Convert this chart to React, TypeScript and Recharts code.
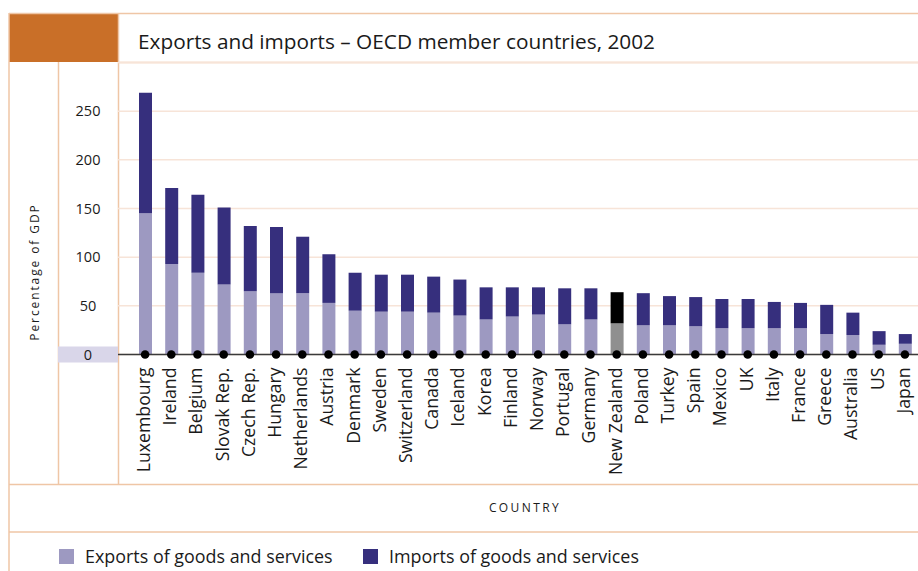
import { BarChart, Bar, Cell, XAxis, YAxis, CartesianGrid } from 'recharts';

const countries = [
  'Luxembourg', 'Ireland', 'Belgium', 'Slovak Rep.', 'Czech Rep.', 'Hungary',
  'Netherlands', 'Austria', 'Denmark', 'Sweden', 'Switzerland', 'Canada',
  'Iceland', 'Korea', 'Finland', 'Norway', 'Portugal', 'Germany',
  'New Zealand', 'Poland', 'Turkey', 'Spain', 'Mexico', 'UK', 'Italy',
  'France', 'Greece', 'Australia', 'US', 'Japan',
];

const exportsPct = [
  145, 93, 84, 72, 65, 63, 63, 53, 45, 44, 44, 43, 40, 36, 39,
  41, 31, 36, 32, 30, 30, 29, 27, 27, 27, 27, 21, 20, 10, 11,
];

const importsPct = [
  124, 78, 80, 79, 67, 68, 58, 50, 39, 38, 38, 37, 37, 33, 30,
  28, 37, 32, 32, 33, 30, 30, 30, 30, 27, 26, 30, 23, 14, 10,
];

const yTicks = [0, 50, 100, 150, 200, 250];
const highlighted = 'New Zealand';

const data = countries.map((country, i) => ({
  country,
  exports: exportsPct[i],
  imports: importsPct[i],
}));

const FONT = '"Open Sans", "Noto Sans", sans-serif';
const FRAME = '#efc6a6';
const GRID = '#f7e4d8';
const EXPORT_COLOR = '#9d99c1';
const IMPORT_COLOR = '#362f7d';

function CountryTick({ x, y, payload }: any) {
  return (
    <g>
      <circle cx={x} cy={y} r={4.3} fill="#000" />
      <text
        transform={`translate(${x},${y + 13}) rotate(-90)`}
        textAnchor="end"
        dy="0.28em"
        fontSize={17.7}
        fontFamily={FONT}
        fill="#1a1a1a"
      >
        {payload.value}
      </text>
    </g>
  );
}

function ValueTick({ x, y, payload }: any) {
  return (
    <g>
      {payload.value === 0 && (
        <rect x={x - 60} y={y - 8} width={60} height={16} fill="#d9d6e9" />
      )}
      <text
        x={x - 30}
        y={y}
        dy="0.35em"
        textAnchor="middle"
        fontSize={14.5}
        fontFamily={FONT}
        fill="#1a1a1a"
      >
        {payload.value}
      </text>
    </g>
  );
}

export default function App() {
  return (
    <div style={{ position: 'absolute', left: 0, top: 0, width: 918, height: 571, background: '#fff' }}>
      {/* frame, title, axis titles and legend */}
      <svg width={918} height={571} style={{ position: 'absolute', left: 0, top: 0 }}>
        <rect x={9} y={13} width={110} height={49} fill="#c96f28" />
        <line x1={9} y1={13.5} x2={918} y2={13.5} stroke={FRAME} strokeWidth={1.5} />
        <line x1={119} y1={62.5} x2={918} y2={62.5} stroke={FRAME} strokeWidth={1.5} />
        <line x1={9} y1={13} x2={9} y2={571} stroke={FRAME} strokeWidth={1.5} />
        <line x1={58.5} y1={62} x2={58.5} y2={484} stroke={FRAME} strokeWidth={1.5} />
        <line x1={118.5} y1={13} x2={118.5} y2={484} stroke={FRAME} strokeWidth={1.5} />
        <line x1={9} y1={484.5} x2={918} y2={484.5} stroke={FRAME} strokeWidth={1.5} />
        <line x1={9} y1={532} x2={918} y2={532} stroke={FRAME} strokeWidth={1.5} />
        <text x={138} y={49} fontSize={20.8} fontFamily={FONT} fill="#1a1a1a">
          Exports and imports – OECD member countries, 2002
        </text>
        <text
          transform="translate(35,272) rotate(-90)"
          textAnchor="middle"
          dy="0.35em"
          fontSize={12}
          letterSpacing={1.9}
          fontFamily={FONT}
          fill="#1a1a1a"
        >
          Percentage of GDP
        </text>
        <text x={525} y={512} textAnchor="middle" fontSize={12} letterSpacing={2.4} fontFamily={FONT} fill="#1a1a1a">
          COUNTRY
        </text>
        <rect x={59} y={549} width={15} height={15} fill={EXPORT_COLOR} />
        <text x={85} y={563} fontSize={17.9} fontFamily={FONT} fill="#1a1a1a">
          Exports of goods and services
        </text>
        <rect x={363} y={549} width={15} height={15} fill={IMPORT_COLOR} />
        <text x={389} y={563} fontSize={17.9} fontFamily={FONT} fill="#1a1a1a">
          Imports of goods and services
        </text>
      </svg>

      <div style={{ position: 'absolute', left: 0, top: 0 }}>
        <BarChart
          width={918}
          height={571}
          data={data}
          margin={{ top: 62.5, right: 0, bottom: 86.5, left: 58 }}
          barSize={13}
        >
          <CartesianGrid horizontal vertical={false} stroke={GRID} strokeWidth={1.5} />
          <YAxis
            domain={[0, 300]}
            ticks={yTicks}
            width={60}
            axisLine={false}
            tickLine={false}
            tickSize={0}
            tickMargin={0}
            tick={<ValueTick />}
          />
          <Bar dataKey="exports" stackId="a" isAnimationActive={false}>
            {data.map((d) => (
              <Cell key={d.country} fill={d.country === highlighted ? '#8f8f8f' : EXPORT_COLOR} />
            ))}
          </Bar>
          <Bar dataKey="imports" stackId="a" isAnimationActive={false}>
            {data.map((d) => (
              <Cell key={d.country} fill={d.country === highlighted ? '#000000' : IMPORT_COLOR} />
            ))}
          </Bar>
          <XAxis
            dataKey="country"
            height={130}
            interval={0}
            padding={{ left: 14, right: 0 }}
            axisLine={{ stroke: '#3a3a3a', strokeWidth: 1.5 }}
            tickLine={false}
            tickSize={0}
            tickMargin={0}
            tick={<CountryTick />}
          />
        </BarChart>
      </div>
    </div>
  );
}
